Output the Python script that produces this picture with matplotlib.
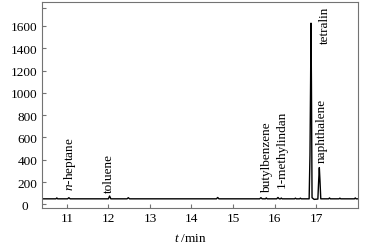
import matplotlib
matplotlib.use("Agg")
import matplotlib.pyplot as plt
from matplotlib.transforms import ScaledTranslation

# chromatogram trace (time in min, signal)
t_min = [10.40, 10.74, 10.76, 10.78, 11.02, 11.05, 11.08, 12.00, 12.03, 12.06,
         12.45, 12.48, 12.51, 14.60, 14.63, 14.66, 15.64, 15.67, 15.70, 15.78,
         15.80, 15.82, 16.05, 16.08, 16.11, 16.14, 16.16, 16.18, 16.48, 16.50,
         16.52, 16.60, 16.62, 16.64, 16.83, 16.85, 16.865, 16.875, 16.885, 16.90,
         16.95, 17.04, 17.06, 17.075, 17.09, 17.11, 17.30, 17.32, 17.34, 17.55,
         17.57, 17.59, 17.92, 17.94, 17.96, 18.00]
signal = [50, 50, 58, 50, 50, 60, 50, 50, 75, 50,
          50, 60, 50, 50, 62, 50, 50, 60, 50, 50,
          58, 50, 50, 62, 50, 50, 57, 50, 50, 56,
          50, 50, 56, 50, 50, 440, 1100, 1625, 1100, 60,
          45, 48, 220, 330, 220, 50, 50, 58, 50, 50,
          56, 50, 50, 58, 50, 50]

# peak labels: name, time, signal where the label starts
peak_names = ["$n$-heptane", "toluene", "butylbenzene", "1-methylindan", "naphthalene", "tetralin"]
peak_t = [11.08, 12.02, 15.81, 16.18, 17.14, 17.22]
peak_y = [130, 110, 110, 155, 380, 1780]

plt.rcParams['font.family'] = ['Liberation Serif', 'DejaVu Serif']
plt.rcParams['mathtext.fontset'] = 'custom'
plt.rcParams['mathtext.it'] = 'Liberation Serif:italic'
plt.rcParams['mathtext.rm'] = 'Liberation Serif'

fig, ax = plt.subplots(figsize=(3.77, 2.51), dpi=100)
fig.subplots_adjust(left=0.111, right=0.949, top=0.989, bottom=0.167)

ax.plot(t_min, signal, color='black', lw=1.0)

for name, x, y in zip(peak_names, peak_t, peak_y):
    va = 'top' if y > 1000 else 'bottom'
    ax.text(x, y, name, rotation=90, ha='center', va=va, fontsize=9.5)

ax.set_xlim(10.4, 18.0)
ax.set_ylim(-33, 1817)
ax.set_xticks(range(11, 18))
ax.set_yticks(range(0, 1601, 200))
ax.set_yticks([1760], minor=True)

gray = '0.45'
for s in ax.spines.values():
    s.set_color(gray)
    s.set_linewidth(0.8)
ax.tick_params(direction='in', length=3, width=0.8, color=gray, labelsize=9.5, pad=3)
ax.tick_params(which='minor', direction='in', length=3, width=0.8, color=gray)

# the "0" sits a bit further left in the original
fig.canvas.draw()
lbl0 = ax.get_yticklabels()[0]
lbl0.set_transform(lbl0.get_transform() + ScaledTranslation(-0.1, 0, fig.dpi_scale_trans))

ax.set_xlabel('$t$ /min', fontsize=9.5, labelpad=3)
ax.xaxis.set_label_coords(0.47, -0.115)

fig.savefig('out.png', dpi=100)
